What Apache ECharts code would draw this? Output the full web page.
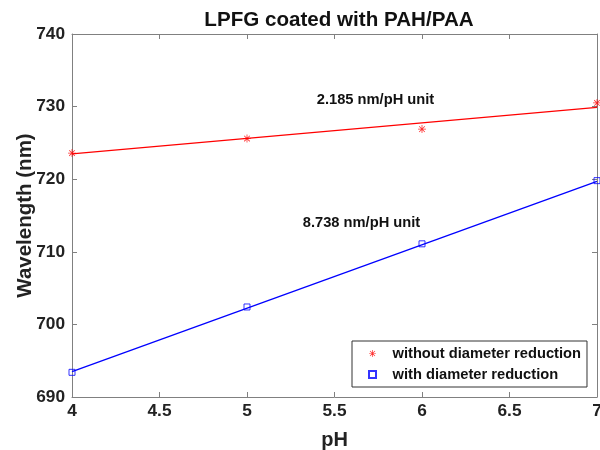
<!DOCTYPE html>
<html>
<head>
<meta charset="utf-8">
<script src="https://cdn.jsdelivr.net/npm/echarts@6/dist/echarts.min.js"></script>
<style>html,body{margin:0;padding:0;background:#fff}#c{width:600px;height:450px}</style>
</head>
<body>
<div id="c"></div>
<script>
const pH = [4, 5, 6, 7];
const withoutReduction = [723.6, 725.6, 726.9, 730.5];
const withReduction = [693.4, 702.4, 711.1, 719.8];
const fitPH = [4, 7];
const withoutFit = [723.5, 729.9];
const withFit = [693.5, 719.7];
const seriesNames = ['without diameter reduction', 'with diameter reduction'];
const slopeLabels = ['2.185 nm/pH unit', '8.738 nm/pH unit'];
const titleText = 'LPFG coated with PAH/PAA';
const xName = 'pH';
const yName = 'Wavelength (nm)';

const FONT = '"Liberation Sans", Arial, sans-serif';
const pairs = (xs, ys) => xs.map((x, i) => [x, ys[i]]);
const ASTERISK = 'path://M4.5 0 L5.5 0 L5.5 10 L4.5 10 Z M0 4.5 L10 4.5 L10 5.5 L0 5.5 Z M1.1 1.8 L1.8 1.1 L8.9 8.2 L8.2 8.9 Z M8.2 1.1 L8.9 1.8 L1.8 8.9 L1.1 8.2 Z';
const SQUARE = 'path://M0 0 L10 0 L10 10 L0 10 Z';

const axisLine = { show: true, lineStyle: { color: '#808080', width: 1 } };
const axisTick = { show: true, inside: true, length: 5, lineStyle: { color: '#808080' } };
const labelStyle = { fontFamily: FONT, fontWeight: 'bold', fontSize: 17.3, color: '#222' };

const chart = echarts.init(document.getElementById('c'), null, { renderer: 'canvas' });
chart.setOption({
  animation: false,
  backgroundColor: '#fff',
  title: {
    text: titleText, left: 334, top: 5, textAlign: 'center',
    textStyle: { fontFamily: FONT, fontWeight: 'bold', fontSize: 20.6, color: '#111' }
  },
  grid: { left: 72, right: 3, top: 34, bottom: 53, containLabel: false, outerBoundsMode: 'none' },
  xAxis: [
    { type: 'value', min: 4, max: 7, interval: 0.5, position: 'bottom',
      name: xName, nameLocation: 'middle', nameGap: 33, nameMoveOverlap: false,
      nameTextStyle: { fontFamily: FONT, fontWeight: 'bold', fontSize: 20, color: '#222' },
      axisLine, axisTick, splitLine: { show: false },
      axisLabel: Object.assign({ margin: 6 }, labelStyle) },
    { type: 'value', min: 4, max: 7, interval: 0.5, position: 'top',
      axisLine, axisTick, splitLine: { show: false }, axisLabel: { show: false } }
  ],
  yAxis: [
    { type: 'value', min: 690, max: 740, interval: 10, position: 'left',
      name: yName, nameLocation: 'middle', nameGap: 36, nameMoveOverlap: false,
      nameTextStyle: { fontFamily: FONT, fontWeight: 'bold', fontSize: 20.5, color: '#222' },
      axisLine, axisTick, splitLine: { show: false },
      axisLabel: Object.assign({ margin: 7 }, labelStyle) },
    { type: 'value', min: 690, max: 740, interval: 10, position: 'right',
      axisLine, axisTick, splitLine: { show: false }, axisLabel: { show: false } }
  ],
  legend: {
    orient: 'vertical', left: 352, top: 341,
    data: seriesNames,
    itemWidth: 30, itemHeight: 7, itemGap: 6,
    padding: [5, 6, 5, 16],
    backgroundColor: '#fff', borderColor: '#333', borderWidth: 1,
    textStyle: { fontFamily: FONT, fontWeight: 'bold', fontSize: 14.7, color: '#111' }
  },
  graphic: [
    { type: 'text', x: 375.5, y: 100, style: { text: slopeLabels[0], font: 'bold 14.7px ' + FONT, fill: '#111', textAlign: 'center', textVerticalAlign: 'middle' } },
    { type: 'text', x: 361.5, y: 223, style: { text: slopeLabels[1], font: 'bold 14.7px ' + FONT, fill: '#111', textAlign: 'center', textVerticalAlign: 'middle' } }
  ],
  series: [
    { type: 'line', data: pairs(fitPH, withoutFit), showSymbol: false, silent: true,
      lineStyle: { color: '#ff0000', width: 1.3 }, z: 2 },
    { type: 'line', data: pairs(fitPH, withFit), showSymbol: false, silent: true,
      lineStyle: { color: '#0000ff', width: 1.3 }, z: 2 },
    { type: 'scatter', name: seriesNames[0], data: pairs(pH, withoutReduction),
      symbol: ASTERISK, symbolSize: 8, itemStyle: { color: '#ff0000' }, z: 3 },
    { type: 'scatter', name: seriesNames[1], data: pairs(pH, withReduction),
      symbol: SQUARE, symbolSize: 6,
      itemStyle: { color: 'rgba(255,255,255,0)', borderColor: '#0000ff', borderWidth: 1 }, z: 3 }
  ]
});
</script>
</body>
</html>
